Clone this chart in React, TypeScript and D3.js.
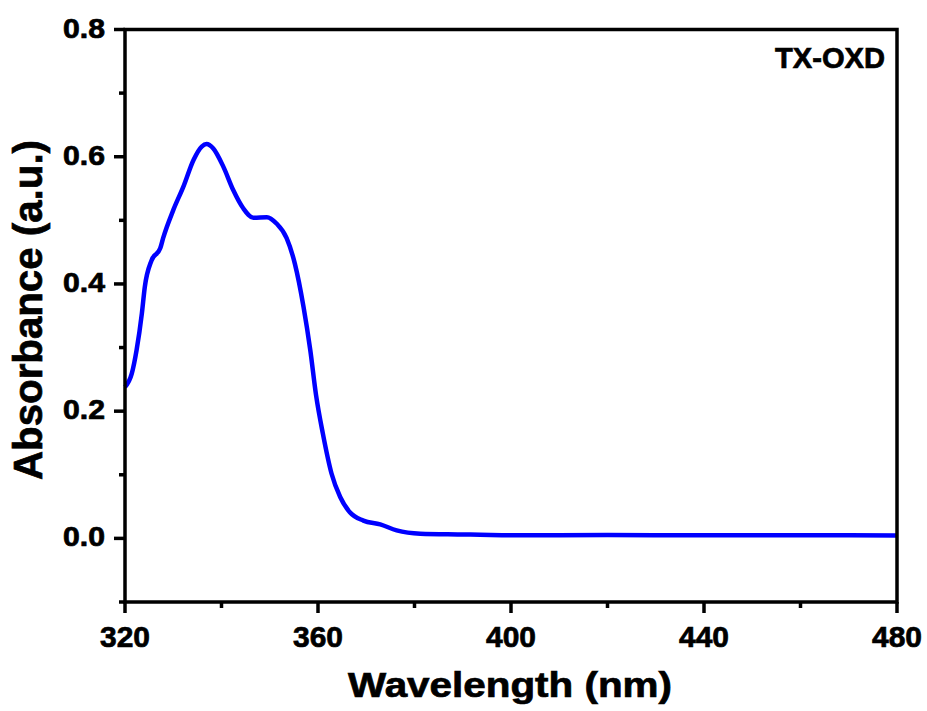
import React from "react";
import * as d3 from "d3";

const wavelength = [320, 321.4, 322.4, 323.5, 324.1, 325.5, 327.3, 327.9, 330.0, 332.1, 334.2, 335.9, 336.9, 338.3, 340.4, 342.4, 344.5, 346.6, 349.4, 351.4, 353.5, 355.2, 357.0, 358.4, 359.6, 361.0, 362.8, 364.6, 366.6, 369.4, 372.9, 376.3, 381.2, 389.4, 393.6, 400, 420, 440, 460, 480];
const absorbance = [0.238, 0.259, 0.296, 0.354, 0.395, 0.437, 0.456, 0.472, 0.516, 0.553, 0.595, 0.616, 0.620, 0.613, 0.584, 0.548, 0.519, 0.504, 0.505, 0.495, 0.472, 0.432, 0.364, 0.296, 0.225, 0.165, 0.102, 0.065, 0.041, 0.028, 0.022, 0.0126, 0.0074, 0.0063, 0.0058, 0.005, 0.0052, 0.005, 0.0048, 0.0047];

const xMajor = [320, 360, 400, 440, 480];
const xMinor = [340, 380, 420, 460];
const yMajor = [0.0, 0.2, 0.4, 0.6, 0.8];
const yMinor = [-0.1, 0.1, 0.3, 0.5, 0.7];
const sampleLabel = "TX-OXD";
const xTitle = "Wavelength (nm)";
const yTitle = "Absorbance (a.u.)";

const FONT = "'Liberation Sans', Arial, Helvetica, sans-serif";

export default function App() {
  const W = 927, H = 711;
  const left = 125, right = 897, top = 29.5, bottom = 602;
  const x = d3.scaleLinear().domain([320, 480]).range([left, right]);
  const y = d3.scaleLinear().domain([-0.1, 0.8]).range([bottom, top]);
  const pts: [number, number][] = wavelength.map((w, i) => [w, absorbance[i]]);
  const line = d3.line<[number, number]>()
    .x(d => x(d[0]))
    .y(d => y(d[1]))
    .curve(d3.curveMonotoneX);

  const txt = { fontFamily: FONT, fontWeight: "bold" as const, stroke: "#000", strokeWidth: 0.7, fill: "#000" };

  return (
    <svg width={W} height={H} style={{ position: "absolute", left: 0, top: 0, background: "#fff" }}>
      <rect x={0} y={0} width={W} height={H} fill="#fff" />
      <path d={line(pts) || ""} fill="none" stroke="#0000FF" strokeWidth={4.5} strokeLinejoin="round" />
      <rect x={left} y={top} width={right - left} height={bottom - top} fill="none" stroke="#000" strokeWidth={3.5} />
      {xMajor.map(v => (
        <g key={"xm" + v}>
          <line x1={x(v)} x2={x(v)} y1={bottom} y2={bottom + 11} stroke="#000" strokeWidth={3.5} />
          <text x={x(v)} y={647} textAnchor="middle" {...txt} fontSize={30} textLength={50} lengthAdjust="spacingAndGlyphs">{v}</text>
        </g>
      ))}
      {xMinor.map(v => (
        <line key={"xn" + v} x1={x(v)} x2={x(v)} y1={bottom} y2={bottom + 6} stroke="#000" strokeWidth={3.5} />
      ))}
      {yMajor.map(v => (
        <g key={"ym" + v}>
          <line x1={left - 11} x2={left} y1={y(v)} y2={y(v)} stroke="#000" strokeWidth={3.5} />
          <text x={105} y={y(v) + 8} textAnchor="end" {...txt} fontSize={27} textLength={42} lengthAdjust="spacingAndGlyphs">{v.toFixed(1)}</text>
        </g>
      ))}
      {yMinor.map(v => (
        <line key={"yn" + v} x1={left - 6} x2={left} y1={y(v)} y2={y(v)} stroke="#000" strokeWidth={3.5} />
      ))}
      <text x={(left + right) / 2 - 1} y={697} textAnchor="middle" {...txt} fontSize={35} textLength={324} lengthAdjust="spacingAndGlyphs">{xTitle}</text>
      <text transform="translate(42,310) rotate(-90)" textAnchor="middle" {...txt} fontSize={40} textLength={340} lengthAdjust="spacingAndGlyphs">{yTitle}</text>
      <text x={885} y={68} textAnchor="end" {...txt} fontSize={29} textLength={110} lengthAdjust="spacingAndGlyphs">{sampleLabel}</text>
    </svg>
  );
}
